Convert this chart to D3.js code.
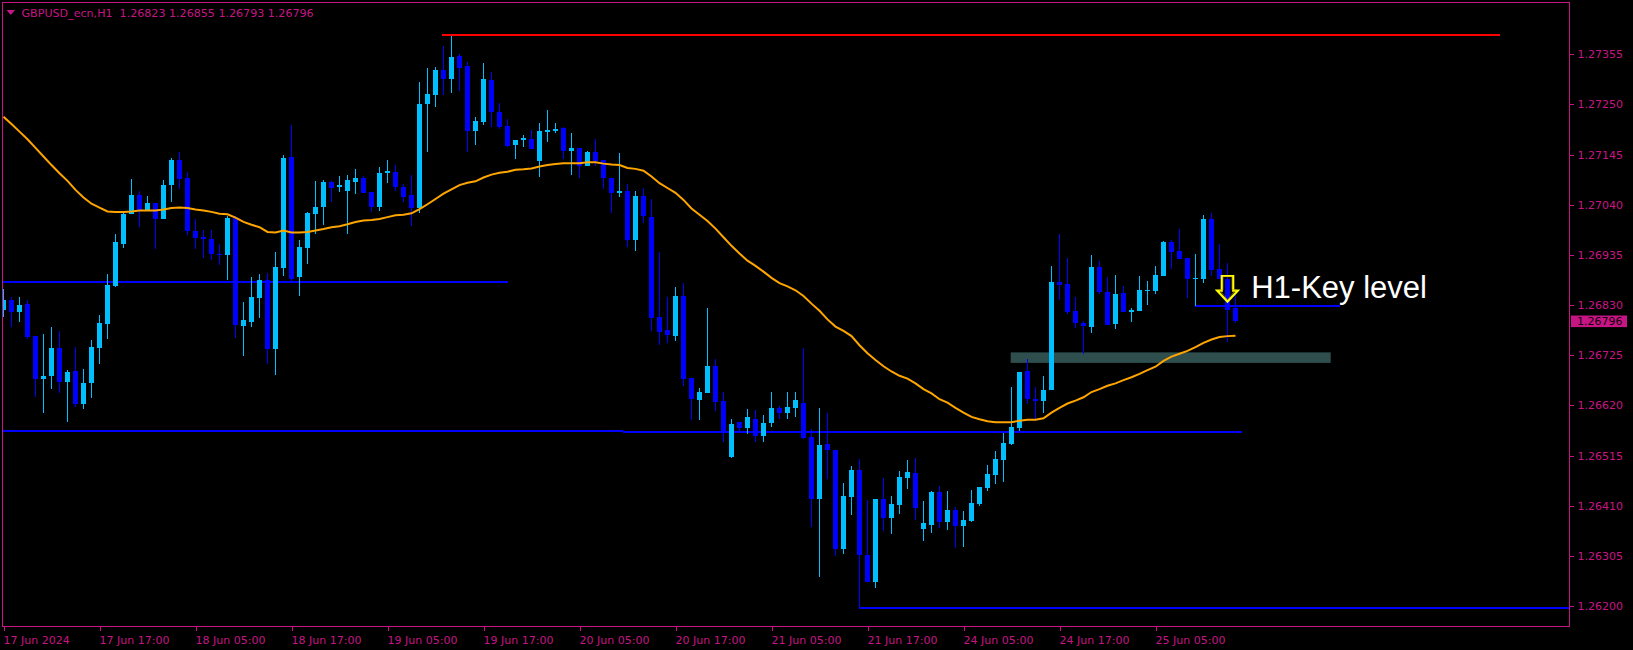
<!DOCTYPE html>
<html><head><meta charset="utf-8">
<script src="https://cdn.jsdelivr.net/npm/d3@7"></script>
<style>html,body{margin:0;padding:0;background:#000;overflow:hidden}</style>
</head><body><svg id="c" width="1633" height="650"></svg>
<script>
const symbolTitle = "GBPUSD_ecn,H1  1.26823 1.26855 1.26793 1.26796";

const open = [1.26820,1.26841,1.26816,1.26832,1.26765,1.26675,1.26682,1.26740,1.26669,1.26692,
1.26623,1.26667,1.26740,1.26790,1.26870,1.26958,1.27021,1.27060,1.27027,1.27044,
1.27010,1.27081,1.27134,1.27096,1.26985,1.26973,1.26968,1.26937,1.26935,1.27012,
1.26786,1.26795,1.26845,1.26883,1.26738,1.26908,1.27140,1.26889,1.26950,1.27021,
1.27035,1.27088,1.27077,1.27069,1.27088,1.27096,1.27067,1.27035,1.27106,1.27109,
1.27077,1.27060,1.27033,1.27251,1.27270,1.27322,1.27303,1.27351,1.27330,1.27194,
1.27213,1.27301,1.27234,1.27205,1.27165,1.27176,1.27178,1.27132,1.27192,1.27194,
1.27201,1.27153,1.27159,1.27121,1.27150,1.27134,1.27096,1.27065,1.27069,1.26966,
1.27058,1.27014,1.26805,1.26778,1.26765,1.26849,1.26677,1.26631,1.26646,1.26702,
1.26629,1.26512,1.26585,1.26573,1.26592,1.26556,1.26583,1.26615,1.26604,1.26615,
1.26625,1.26554,1.26424,1.26539,1.26527,1.26320,1.26428,1.26485,1.26307,1.26250,
1.26424,1.26384,1.26412,1.26468,1.26479,1.26361,1.26370,1.26439,1.26376,1.26401,
1.26368,1.26378,1.26414,1.26447,1.26474,1.26506,1.26539,1.26573,1.26692,1.26633,
1.26629,1.26652,1.26878,1.26874,1.26818,1.26793,1.26784,1.26910,1.26857,1.26790,
1.26855,1.26816,1.26818,1.26860,1.26860,1.26891,1.26962,1.26943,1.26929,1.26885,
1.26885,1.27010,1.26906,1.26885,1.26823];

const high = [1.26864,1.26846,1.26847,1.26841,1.26765,1.26770,1.26784,1.26776,1.26694,1.26742,
1.26696,1.26757,1.26809,1.26895,1.26979,1.27025,1.27094,1.27069,1.27058,1.27044,
1.27092,1.27138,1.27150,1.27109,1.27010,1.26987,1.26987,1.26958,1.27017,1.27017,
1.26837,1.26889,1.26895,1.26897,1.26941,1.27144,1.27207,1.26966,1.27025,1.27090,
1.27092,1.27090,1.27100,1.27102,1.27115,1.27100,1.27067,1.27119,1.27134,1.27123,
1.27083,1.27102,1.27297,1.27326,1.27328,1.27372,1.27393,1.27356,1.27339,1.27224,
1.27337,1.27318,1.27253,1.27220,1.27176,1.27186,1.27196,1.27211,1.27238,1.27211,
1.27203,1.27190,1.27159,1.27153,1.27178,1.27134,1.27096,1.27148,1.27083,1.27069,
1.27075,1.27052,1.26941,1.26847,1.26868,1.26876,1.26677,1.26656,1.26824,1.26717,
1.26648,1.26592,1.26585,1.26613,1.26610,1.26600,1.26648,1.26619,1.26648,1.26648,
1.26740,1.26571,1.26615,1.26604,1.26527,1.26458,1.26493,1.26508,1.26422,1.26424,
1.26468,1.26430,1.26483,1.26506,1.26510,1.26420,1.26441,1.26451,1.26441,1.26407,
1.26399,1.26443,1.26449,1.26495,1.26525,1.26562,1.26659,1.26690,1.26717,1.26659,
1.26682,1.26912,1.26979,1.26929,1.26847,1.26797,1.26935,1.26922,1.26889,1.26893,
1.26870,1.26824,1.26891,1.26880,1.26912,1.26964,1.26966,1.26989,1.26929,1.26937,
1.27019,1.27023,1.26958,1.26918,1.26855];

const low = [1.26804,1.26784,1.26795,1.26758,1.26638,1.26605,1.26655,1.26646,1.26585,1.26617,
1.26613,1.26636,1.26707,1.26759,1.26868,1.26950,1.27021,1.26993,1.27027,1.26947,
1.27010,1.27046,1.27073,1.26977,1.26947,1.26929,1.26924,1.26914,1.26883,1.26761,
1.26724,1.26784,1.26803,1.26707,1.26684,1.26891,1.26880,1.26849,1.26916,1.26979,
1.26998,1.27046,1.27067,1.26979,1.27063,1.27065,1.27025,1.27027,1.27086,1.27069,
1.27046,1.26996,1.27022,1.27150,1.27245,1.27270,1.27274,1.27278,1.27150,1.27165,
1.27207,1.27203,1.27199,1.27161,1.27136,1.27161,1.27157,1.27098,1.27171,1.27190,
1.27136,1.27102,1.27096,1.27121,1.27121,1.27073,1.27023,1.27056,1.26952,1.26943,
1.27002,1.26776,1.26746,1.26751,1.26755,1.26661,1.26590,1.26590,1.26646,1.26608,
1.26543,1.26510,1.26564,1.26560,1.26543,1.26543,1.26575,1.26592,1.26592,1.26596,
1.26550,1.26366,1.26261,1.26466,1.26305,1.26309,1.26391,1.26197,1.26250,1.26238,
1.26357,1.26351,1.26393,1.26445,1.26380,1.26336,1.26353,1.26363,1.26359,1.26322,
1.26324,1.26376,1.26410,1.26441,1.26456,1.26460,1.26537,1.26566,1.26623,1.26590,
1.26604,1.26652,1.26841,1.26811,1.26782,1.26728,1.26772,1.26853,1.26788,1.26780,
1.26816,1.26795,1.26818,1.26830,1.26853,1.26891,1.26906,1.26927,1.26845,1.26828,
1.26876,1.26891,1.26885,1.26753,1.26793];

const close = [1.26841,1.26816,1.26830,1.26763,1.26675,1.26682,1.26740,1.26669,1.26690,1.26623,
1.26667,1.26742,1.26793,1.26872,1.26962,1.27021,1.27060,1.27027,1.27044,1.27010,
1.27081,1.27134,1.27094,1.26985,1.26970,1.26968,1.26937,1.26935,1.27012,1.26788,
1.26799,1.26847,1.26883,1.26738,1.26910,1.27138,1.26885,1.26952,1.27023,1.27035,
1.27088,1.27075,1.27081,1.27092,1.27096,1.27065,1.27035,1.27106,1.27111,1.27077,
1.27056,1.27033,1.27251,1.27272,1.27322,1.27303,1.27349,1.27326,1.27194,1.27215,
1.27303,1.27234,1.27203,1.27163,1.27176,1.27180,1.27157,1.27194,1.27196,1.27199,
1.27153,1.27159,1.27121,1.27150,1.27132,1.27096,1.27065,1.27069,1.26966,1.27058,
1.27017,1.26803,1.26774,1.26767,1.26849,1.26675,1.26633,1.26648,1.26702,1.26627,
1.26566,1.26581,1.26573,1.26596,1.26556,1.26583,1.26615,1.26604,1.26617,1.26631,
1.26552,1.26424,1.26537,1.26527,1.26320,1.26430,1.26485,1.26307,1.26250,1.26424,
1.26384,1.26414,1.26470,1.26481,1.26405,1.26374,1.26439,1.26376,1.26401,1.26368,
1.26380,1.26416,1.26449,1.26476,1.26508,1.26541,1.26575,1.26690,1.26633,1.26629,
1.26652,1.26878,1.26872,1.26816,1.26793,1.26786,1.26910,1.26857,1.26788,1.26853,
1.26816,1.26820,1.26862,1.26862,1.26893,1.26962,1.26941,1.26927,1.26885,1.26887,
1.27010,1.26904,1.26885,1.26820,1.26796];

const ma = [1.27224,1.27209,1.27193,1.27177,1.27159,1.27141,1.27123,1.27106,1.27090,1.27071,
1.27055,1.27042,1.27034,1.27026,1.27025,1.27025,1.27026,1.27028,1.27028,1.27028,
1.27030,1.27033,1.27034,1.27033,1.27030,1.27028,1.27025,1.27021,1.27020,1.27013,
1.27004,1.26998,1.26993,1.26983,1.26982,1.26986,1.26982,1.26982,1.26983,1.26986,
1.26989,1.26993,1.26995,1.26999,1.27004,1.27007,1.27008,1.27010,1.27014,1.27018,
1.27019,1.27022,1.27031,1.27041,1.27052,1.27063,1.27072,1.27081,1.27086,1.27089,
1.27097,1.27103,1.27107,1.27109,1.27113,1.27114,1.27116,1.27120,1.27123,1.27125,
1.27127,1.27127,1.27127,1.27129,1.27129,1.27126,1.27124,1.27123,1.27117,1.27115,
1.27111,1.27099,1.27085,1.27075,1.27065,1.27050,1.27032,1.27019,1.27006,1.26990,
1.26972,1.26954,1.26938,1.26923,1.26912,1.26900,1.26887,1.26876,1.26869,1.26861,
1.26849,1.26833,1.26818,1.26800,1.26785,1.26776,1.26765,1.26746,1.26729,1.26715,
1.26702,1.26691,1.26682,1.26676,1.26666,1.26654,1.26645,1.26633,1.26626,1.26615,
1.26605,1.26596,1.26591,1.26587,1.26585,1.26585,1.26585,1.26588,1.26590,1.26590,
1.26593,1.26605,1.26615,1.26624,1.26630,1.26637,1.26648,1.26654,1.26661,1.26666,
1.26673,1.26679,1.26686,1.26694,1.26701,1.26713,1.26722,1.26728,1.26734,1.26742,
1.26751,1.26758,1.26763,1.26765,1.26766];

const priceTicks = [1.27355,1.27250,1.27145,1.27040,1.26935,1.26830,1.26725,1.26620,1.26515,1.26410,1.26305,1.26200];
const timeTickBars = [0,12,24,36,48,60,72,84,96,108,120,132,144];
const timeTickLabels = ["17 Jun 2024","17 Jun 17:00","18 Jun 05:00","18 Jun 17:00","19 Jun 05:00","19 Jun 17:00",
  "20 Jun 05:00","20 Jun 17:00","21 Jun 05:00","21 Jun 17:00","24 Jun 05:00","24 Jun 17:00","25 Jun 05:00"];
const lastPrice = 1.26796;

// horizontal objects: [fromBar, toBar, price]
const redLevels = [[54.85, 187, 1.27395]];
const blueLevels = [[-0.5, 63, 1.26879], [-0.5, 77.4, 1.26567], [77.4, 154.8, 1.26564], [106.9, 196, 1.26197], [148.9, 167, 1.26827]];
const zone = [125.9, 165.9, 1.26731, 1.26709];
const arrowBar = 153, arrowPrice = 1.26837;
const keyLabel = "H1-Key level", keyLabelBar = 156, keyLabelPrice = 1.26844;

const PINK = "#C71585", BULL = "#00BFFF", BEAR = "#0000FF";
const svg = d3.select("#c");
svg.append("rect").attr("width",1633).attr("height",650).attr("fill","#000");

const L = 2.5, R = 1569.5, T = 2.5, B = 626.5;
const x = d3.scaleLinear().domain([0, 195]).range([3.5, 1563.5]);
const y = d3.scaleLinear().domain([1.26200, 1.27355]).range([606.1, 54.2]);

svg.append("clipPath").attr("id","plot").append("rect").attr("x",L+0.5).attr("y",T+0.5).attr("width",R-L-1).attr("height",B-T-1);
const g = svg.append("g").attr("clip-path","url(#plot)");

// zone
g.append("rect").attr("x",x(zone[0])).attr("width",x(zone[1])-x(zone[0]))
  .attr("y",y(zone[2])).attr("height",y(zone[3])-y(zone[2])).attr("fill","#2F4F4F");

// horizontal levels
g.selectAll("line.red").data(redLevels).join("line").attr("class","red")
  .attr("x1",d=>x(d[0])).attr("x2",d=>x(d[1])).attr("y1",d=>y(d[2])).attr("y2",d=>y(d[2]))
  .attr("stroke","#FF0000").attr("stroke-width",2).attr("shape-rendering","crispEdges");
g.selectAll("line.blue").data(blueLevels).join("line").attr("class","blue")
  .attr("x1",d=>x(d[0])).attr("x2",d=>x(d[1])).attr("y1",d=>y(d[2])).attr("y2",d=>y(d[2]))
  .attr("stroke","#0000FF").attr("stroke-width",2).attr("shape-rendering","crispEdges");

// candles
const idx = d3.range(open.length);
g.selectAll("line.wick").data(idx).join("line").attr("class","wick")
  .attr("x1",i=>Math.floor(x(i))+0.5).attr("x2",i=>Math.floor(x(i))+0.5)
  .attr("y1",i=>y(high[i])).attr("y2",i=>y(low[i]))
  .attr("stroke",i=>close[i]>=open[i]?BULL:BEAR).attr("stroke-width",1).attr("shape-rendering","crispEdges");
g.selectAll("rect.body").data(idx).join("rect").attr("class","body")
  .attr("x",i=>Math.floor(x(i))-2).attr("width",5)
  .attr("y",i=>y(Math.max(open[i],close[i])))
  .attr("height",i=>Math.max(1.5, Math.abs(y(open[i])-y(close[i]))))
  .attr("fill",i=>close[i]>=open[i]?BULL:BEAR).attr("shape-rendering","crispEdges");

// moving average
g.append("path").datum(idx).attr("fill","none").attr("stroke","#FFA500").attr("stroke-width",2)
  .attr("d", d3.line().x(i=>x(i)).y(i=>y(ma[i])));

// arrow (outlined down arrow)
const ax = x(arrowBar), ay = y(arrowPrice);
const arrowPts = [[-5.7,-25.7],[5.7,-25.7],[5.7,-11],[10.3,-11],[0,0],[-10.3,-11],[-5.7,-11]];
g.append("polygon").attr("points", arrowPts.map(p=>[ax+p[0], ay+p[1]].join(",")).join(" "))
  .attr("fill","none").attr("stroke","#FFFF00").attr("stroke-width",2.2).attr("stroke-linejoin","miter");
g.append("polygon").attr("points", arrowPts.map(p=>[ax+p[0]*0.8, ay-2+p[1]*0.9].join(",")).join(" "))
  .attr("fill","none").attr("stroke","#C8A000").attr("stroke-width",0.6);

// label
g.append("text").attr("x",x(keyLabelBar)-0.3).attr("y",y(keyLabelPrice))
  .attr("fill","#FFFFFF").attr("font-family","Liberation Sans, Arial, sans-serif").attr("font-size",31)
  .text(keyLabel);

// frame
svg.append("rect").attr("x",L).attr("y",T).attr("width",R-L).attr("height",B-T)
  .attr("fill","none").attr("stroke",PINK).attr("stroke-width",1).attr("shape-rendering","crispEdges");

// price axis
const yAxis = d3.axisRight(y).tickValues(priceTicks).tickFormat(d3.format(".5f")).tickSize(4).tickPadding(4);
const ya = svg.append("g").attr("transform",`translate(${R},0)`).call(yAxis);
ya.select(".domain").remove();
ya.selectAll("line").attr("stroke",PINK).attr("shape-rendering","crispEdges");
ya.selectAll("text").attr("fill",PINK).attr("font-family","DejaVu Sans, sans-serif").attr("font-size",11);

// time axis
const xAxis = d3.axisBottom(x).tickValues(timeTickBars).tickFormat((d,i)=>timeTickLabels[i]).tickSize(4).tickPadding(6);
const xa = svg.append("g").attr("transform",`translate(0,${B})`).call(xAxis);
xa.select(".domain").remove();
xa.selectAll("line").attr("stroke",PINK).attr("shape-rendering","crispEdges");
xa.selectAll("text").attr("fill",PINK).attr("font-family","DejaVu Sans, sans-serif").attr("font-size",11)
  .attr("text-anchor","start").attr("dx",-0.5);

// last price box
const lp = svg.append("g").attr("transform",`translate(${R+1},${y(lastPrice)})`);
lp.append("rect").attr("x",0.5).attr("y",-5.8).attr("width",56).attr("height",11.6).attr("fill",PINK);
lp.append("text").attr("x",6.5).attr("y",4).attr("fill","#100008").attr("font-family","DejaVu Sans, sans-serif")
  .attr("font-size",11).text(d3.format(".5f")(lastPrice));

// title
svg.append("path").attr("d","M6.5,10 L15,10 L10.75,15 Z").attr("fill",PINK);
svg.append("text").attr("x",21.5).attr("y",17).attr("fill",PINK).attr("font-family","DejaVu Sans, sans-serif")
  .attr("font-size",11.1).attr("xml:space","preserve").style("white-space","pre").text(symbolTitle);
</script></body></html>
